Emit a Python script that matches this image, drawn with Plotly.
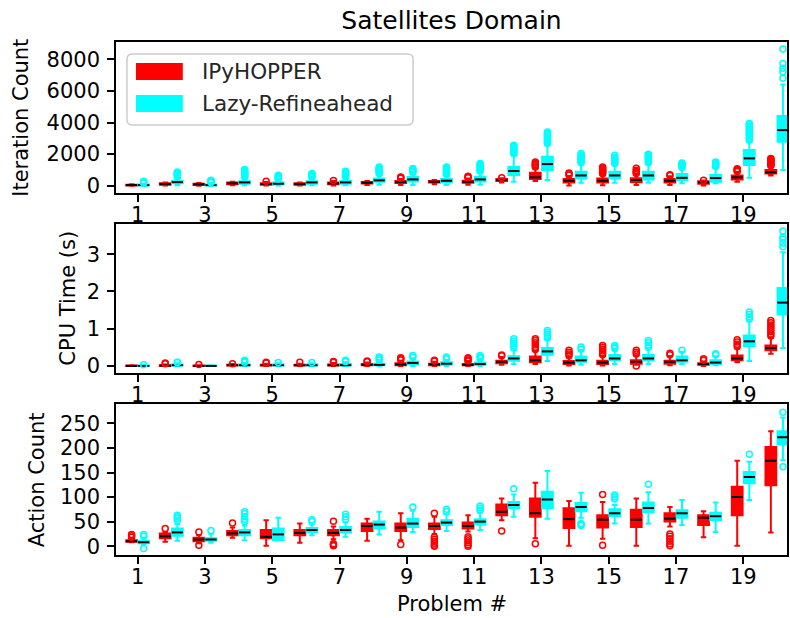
import plotly.graph_objects as go

# ---------------- data ----------------
problems = list(range(1, 21))
tick_labels = ["1", "3", "5", "7", "9", "11", "13", "15", "17", "19"]
planners = ["IPyHOPPER", "Lazy-Refineahead"]
colors = ["#ff0000", "#00ffff"]

# Iteration count
iter_red_q1 = [20, 60, 40, 100, 60, 60, 100, 140, 170, 200, 190, 300, 420, 200, 200, 220, 200, 130, 400, 780]
iter_red_med = [40, 105, 85, 150, 105, 105, 150, 190, 230, 250, 250, 360, 530, 316, 316, 360, 316, 210, 530, 845]
iter_red_q3 = [60, 150, 120, 200, 160, 160, 200, 240, 300, 300, 320, 420, 820, 420, 450, 480, 420, 290, 650, 990]
iter_red_lo = [0, 10, 0, 30, 10, 10, 20, 50, 50, 100, 60, 200, 300, 20, 30, 50, 50, 20, 250, 650]
iter_red_hi = [100, 200, 170, 250, 240, 200, 300, 300, 420, 360, 450, 480, 1100, 620, 700, 720, 600, 330, 850, 1200]
iter_red_out = [[], [], [], [], [280], [], [330], [], [470, 520, 560], [],
                [500, 550, 600], [500], [1180, 1260, 1340, 1420, 1500], [680, 740, 800],
                [760, 820, 880, 940, 1000, 1060, 1120, 1190], [780, 840, 900, 980, 1100],
                [650, 700], [350], [900, 960, 1020, 1080],
                [1260, 1320, 1380, 1440, 1500, 1560, 1620, 1680, 1720]]

iter_cyan_q1 = [20, 150, 20, 130, 70, 130, 130, 250, 260, 220, 260, 675, 990, 465, 465, 400, 360, 250, 1310, 2785]
iter_cyan_med = [40, 230, 40, 210, 127, 210, 210, 340, 400, 316, 400, 930, 1370, 650, 650, 650, 500, 485, 1730, 3520]
iter_cyan_q3 = [70, 300, 80, 280, 200, 290, 300, 450, 550, 430, 570, 1200, 1840, 885, 885, 885, 740, 680, 2260, 4410]
iter_cyan_lo = [0, 30, 0, 30, 10, 30, 30, 60, 50, 40, 60, 250, 360, 190, 190, 190, 150, 150, 500, 990]
iter_cyan_hi = [130, 500, 160, 480, 360, 480, 500, 700, 780, 660, 850, 1950, 2600, 1400, 1350, 1400, 1100, 1150, 2800, 6400]
iter_cyan_out = [[180, 230, 285], [560, 620, 680, 740, 800, 876], [200, 250, 300, 348],
                 [540, 600, 660, 720, 780, 840, 900, 960, 1023], [420, 480, 540, 600, 665],
                 [540, 600, 660, 720, 770], [560, 620, 680, 740, 800, 860, 918],
                 [760, 820, 880, 940, 1000, 1060, 1120, 1192], [840, 900, 960, 1020, 1087],
                 [720, 780, 840, 900, 960, 1020, 1080, 1140, 1192],
                 [920, 980, 1040, 1100, 1160, 1220, 1280, 1340, 1413],
                 [2020, 2100, 2180, 2260, 2340, 2420, 2500, 2563],
                 [2680, 2760, 2840, 2920, 3000, 3080, 3160, 3240, 3320, 3407],
                 [1460, 1540, 1620, 1700, 1780, 1860, 1940, 2036],
                 [1410, 1490, 1570, 1650, 1730, 1810, 1931],
                 [1460, 1540, 1620, 1700, 1780, 1860, 1940, 1994],
                 [1160, 1220, 1280, 1340, 1400, 1445], [1210, 1270, 1330, 1390, 1450, 1509],
                 [2880, 2980, 3080, 3180, 3280, 3380, 3480, 3580, 3680, 3780, 3880, 3935],
                 [6800, 7220, 7430, 7740, 8650]]

# CPU time (s)
cpu_red_q1 = [0.0, 0.0, 0.0, 0.01, 0.01, 0.01, 0.01, 0.02, 0.02, 0.02, 0.02, 0.07, 0.1, 0.05, 0.05, 0.06, 0.06, 0.03, 0.15, 0.42]
cpu_red_med = [0.0, 0.01, 0.0, 0.02, 0.02, 0.02, 0.02, 0.03, 0.04, 0.04, 0.03, 0.11, 0.15, 0.09, 0.09, 0.11, 0.11, 0.05, 0.2, 0.48]
cpu_red_q3 = [0.01, 0.02, 0.01, 0.03, 0.03, 0.03, 0.04, 0.05, 0.07, 0.06, 0.05, 0.14, 0.25, 0.13, 0.14, 0.15, 0.14, 0.07, 0.28, 0.55]
cpu_red_lo = [0, 0, 0, 0, 0, 0, 0, 0, 0, 0, 0, 0.03, 0.05, 0.01, 0.01, 0.03, 0.02, 0.0, 0.1, 0.33]
cpu_red_hi = [0.02, 0.04, 0.02, 0.05, 0.06, 0.06, 0.08, 0.09, 0.14, 0.11, 0.1, 0.24, 0.4, 0.23, 0.26, 0.28, 0.26, 0.12, 0.47, 0.75]
cpu_red_out = [[], [0.06, 0.08], [0.04], [0.06], [0.08, 0.1], [0.1], [0.1, 0.12], [0.11, 0.13],
               [0.16, 0.19, 0.22], [0.13, 0.15], [0.13, 0.16, 0.19, 0.22], [0.27, 0.29],
               [0.44, 0.5, 0.56, 0.62, 0.68, 0.73], [0.27, 0.32, 0.37, 0.42],
               [0.3, 0.35, 0.4, 0.45, 0.5, 0.55], [0.32, 0.37, 0.42, 0.0], [0.3, 0.34],
               [0.15, 0.19], [0.52, 0.58, 0.64, 0.7],
               [0.8, 0.86, 0.92, 0.98, 1.04, 1.1, 1.16, 1.22]]

cpu_cyan_q1 = [0.0, 0.01, 0.0, 0.01, 0.01, 0.01, 0.01, 0.02, 0.04, 0.03, 0.03, 0.14, 0.3, 0.11, 0.15, 0.15, 0.11, 0.05, 0.53, 1.38]
cpu_cyan_med = [0.0, 0.02, 0.0, 0.02, 0.02, 0.02, 0.02, 0.03, 0.08, 0.06, 0.05, 0.2, 0.39, 0.15, 0.2, 0.2, 0.15, 0.09, 0.66, 1.70]
cpu_cyan_q3 = [0.01, 0.04, 0.01, 0.04, 0.04, 0.04, 0.05, 0.06, 0.12, 0.1, 0.09, 0.26, 0.48, 0.25, 0.29, 0.29, 0.25, 0.15, 0.82, 2.09]
cpu_cyan_lo = [0, 0, 0, 0, 0, 0, 0, 0, 0, 0, 0, 0.05, 0.13, 0.03, 0.05, 0.05, 0.05, 0.02, 0.13, 0.48]
cpu_cyan_hi = [0.02, 0.07, 0.02, 0.08, 0.07, 0.07, 0.1, 0.12, 0.2, 0.16, 0.16, 0.42, 0.7, 0.4, 0.42, 0.45, 0.38, 0.25, 1.2, 3.05]
cpu_cyan_out = [[0.03], [0.09, 0.1], [], [0.1, 0.13, 0.15], [0.09], [0.09], [0.12, 0.15],
                [0.15, 0.19, 0.24], [0.23, 0.28], [0.19, 0.24], [0.2, 0.24, 0.28],
                [0.48, 0.54, 0.6, 0.66, 0.73], [0.75, 0.8, 0.85, 0.9, 0.95], [0.45, 0.51],
                [0.47, 0.51, 0.55], [0.5, 0.56, 0.62, 0.68], [0.42], [0.3, 0.33],
                [1.26, 1.32, 1.38, 1.45], [3.2, 3.3, 3.4, 3.46, 3.62]]

# Action count
act_red_q1 = [9, 16, 10, 22, 16, 22, 22, 31, 31, 35, 36, 63, 60, 37, 38, 39, 50, 43, 63, 124]
act_red_med = [10, 20, 13.6, 26, 19, 27, 27, 41, 38, 41, 41, 70, 67, 55, 54, 54, 56, 58, 100, 174]
act_red_q3 = [12, 26, 17, 31, 33, 33, 33, 46, 46, 46, 48, 85, 97, 77, 63, 74, 67, 63, 121, 202]
act_red_lo = [8, 9, 6, 17, 1, 7, 14, 11, 12, 25, 30, 53, 16, 1, 15, 1, 40, 18, 1, 28]
act_red_hi = [15, 29, 22, 38, 53, 46, 40, 56, 67, 60, 63, 97, 129, 92, 90, 97, 80, 71, 174, 234]
act_red_out = [[18, 21, 24], [36], [29, 2], [47], [], [], [51, 5, 3, 1], [], [3.4],
               [67, 18, 14, 10, 6, 2, 0], [19, 15, 11, 7, 3, 0], [31], [5], [], [105, 2], [],
               [25, 20, 15, 10, 5, 1], [], [], []]

act_cyan_q1 = [6, 21, 11, 22, 12, 29, 28, 36, 39, 43, 44, 77, 77, 71, 61, 69, 58, 53, 128, 207]
act_cyan_med = [8, 28, 13.6, 28, 24, 33, 33, 44, 46, 48, 50, 84, 95, 80, 67, 78, 67, 61, 141, 222]
act_cyan_q3 = [11, 36, 16, 33, 36, 37, 39, 50, 56, 53, 55, 90, 111, 88, 75, 89, 73, 68, 151, 234]
act_cyan_lo = [3, 11, 7, 12, 12, 22, 19, 24, 29, 31, 33, 60, 56, 58, 46, 46, 43, 29, 94, 175]
act_cyan_hi = [16, 45, 25, 42, 58, 44, 48, 70, 72, 65, 68, 105, 153, 109, 84, 110, 94, 89, 172, 262]
act_cyan_out = [[20, 24, -5], [53, 57, 60, 63], [32], [50, 55, 60, 66, 70], [], [50, 54],
                [55, 60, 65], [], [80], [70, 75], [73, 78, 82], [117], [], [46, 44, 42],
                [96, 100, 104], [126], [], [], [187], [162, 273]]

# ---------------- figure ----------------
# the page body margin is removed (see post_script), so the figure fills the window
W, H = 790, 618
ML, MR, MT, MB = 116, 1, 42, 618 - 555
PW, PH = W - ML - MR, H - MT - MB


def py(pix):  # screen pixel row -> paper y
    return 1 - (pix - MT) / PH


def px(pix):  # screen pixel column -> paper x
    return (pix - ML) / PW


offsets = [-0.18, 0.18]
panels = [
    ("x", "y", [(iter_red_q1, iter_red_med, iter_red_q3, iter_red_lo, iter_red_hi, iter_red_out),
                (iter_cyan_q1, iter_cyan_med, iter_cyan_q3, iter_cyan_lo, iter_cyan_hi, iter_cyan_out)]),
    ("x2", "y2", [(cpu_red_q1, cpu_red_med, cpu_red_q3, cpu_red_lo, cpu_red_hi, cpu_red_out),
                  (cpu_cyan_q1, cpu_cyan_med, cpu_cyan_q3, cpu_cyan_lo, cpu_cyan_hi, cpu_cyan_out)]),
    ("x3", "y3", [(act_red_q1, act_red_med, act_red_q3, act_red_lo, act_red_hi, act_red_out),
                  (act_cyan_q1, act_cyan_med, act_cyan_q3, act_cyan_lo, act_cyan_hi, act_cyan_out)]),
]

fig = go.Figure()
for xa, ya, series in panels:
    for k, (q1, med, q3, lo, hi, out) in enumerate(series):
        xs = [p + offsets[k] for p in problems]
        fig.add_trace(go.Box(
            x=xs, q1=q1, median=med, q3=q3, lowerfence=lo, upperfence=hi,
            width=0.32, whiskerwidth=0.5, boxpoints=False,
            fillcolor=colors[k], line=dict(color=colors[k], width=2),
            name=planners[k], showlegend=False, hoverinfo="skip",
            xaxis=xa, yaxis=ya))
for xa, ya, series in panels:
    for k, (q1, med, q3, lo, hi, out) in enumerate(series):
        xs = [p + offsets[k] for p in problems]
        fig.add_trace(go.Scatter(
            x=xs, y=med, mode="markers",
            marker=dict(symbol="line-ew", size=8, line=dict(color="black", width=2)),
            showlegend=False, hoverinfo="skip", xaxis=xa, yaxis=ya))
        fx, fy = [], []
        for p, vals in zip(problems, out):
            for v in vals:
                fx.append(p + offsets[k])
                fy.append(v)
        fig.add_trace(go.Scatter(
            x=fx, y=fy, mode="markers",
            marker=dict(symbol="circle-open", size=6, color=colors[k],
                        line=dict(width=1.5, color=colors[k])),
            showlegend=False, hoverinfo="skip", xaxis=xa, yaxis=ya))

FS = 21
tickvals = [int(t) for t in tick_labels]
axis_common = dict(showline=True, mirror=True, linecolor="black", linewidth=1.5,
                   ticks="outside", ticklen=7, tickwidth=1.5, tickcolor="black",
                   showgrid=False, zeroline=False,
                   tickfont=dict(size=FS, color="black", family="DejaVu Sans"))
xcommon = dict(axis_common, range=[0.357, 20.30], tickmode="array",
               tickvals=tickvals, ticktext=tick_labels, domain=[0, 1],
               ticklabelstandoff=-5)

doms = [[py(193), 1.0], [py(373), py(224)], [0.0, py(404.3)]]
fig.update_layout(
    width=W, height=H, margin=dict(l=ML, r=MR, t=MT, b=MB),
    plot_bgcolor="white", paper_bgcolor="white", boxmode="overlay",
    font=dict(family="DejaVu Sans", color="black", size=FS),
    title=dict(text="Satellites Domain", x=0.5, xref="paper", xanchor="center",
               y=1 - 20 / H, yanchor="middle", font=dict(size=25, color="black")),
    xaxis=dict(xcommon, anchor="y"),
    xaxis2=dict(xcommon, anchor="y2"),
    xaxis3=dict(xcommon, anchor="y3"),
    yaxis=dict(axis_common, domain=doms[0], range=[-460, 9095], tick0=0, dtick=2000, anchor="x",
               ticklabelstandoff=3),
    yaxis2=dict(axis_common, domain=doms[1], range=[-0.19, 3.81], tick0=0, dtick=1, anchor="x2",
                ticklabelstandoff=3),
    yaxis3=dict(axis_common, domain=doms[2], range=[-18, 289], tick0=0, dtick=50, anchor="x3",
                ticklabelstandoff=3),
)

ann = [
    dict(text="Iteration Count", x=px(21), y=py(117.5), textangle=-90),
    dict(text="CPU Time (s)", x=px(67), y=py(298.5), textangle=-90),
    dict(text="Action Count", x=px(36.5), y=py(479.5), textangle=-90),
    dict(text="Problem #", x=px(453), y=py(604), textangle=0),
]
for a in ann:
    fig.add_annotation(xref="paper", yref="paper", showarrow=False,
                       xanchor="center", yanchor="middle",
                       font=dict(size=FS, color="black"), **a)

# legend (matplotlib style: rounded frame with wide colour patches)
lx0, lx1, ly0, ly1, r = px(127), px(414), py(125), py(54), 0.008
ry = r * PW / PH
path = (f"M{lx0 + r},{ly0} L{lx1 - r},{ly0} Q{lx1},{ly0} {lx1},{ly0 + ry} "
        f"L{lx1},{ly1 - ry} Q{lx1},{ly1} {lx1 - r},{ly1} L{lx0 + r},{ly1} "
        f"Q{lx0},{ly1} {lx0},{ly1 - ry} L{lx0},{ly0 + ry} Q{lx0},{ly0} {lx0 + r},{ly0} Z")
fig.add_shape(type="path", path=path, xref="paper", yref="paper",
              line=dict(color="#cccccc", width=1.5), fillcolor="rgba(255,255,255,0.8)", layer="above")
patch_rows = [(63, 80, 71.5), (95, 112, 103.5)]
for k, (t0, t1, tc) in enumerate(patch_rows):
    fig.add_shape(type="rect", xref="paper", yref="paper",
                  x0=px(136), x1=px(183), y0=py(t1), y1=py(t0),
                  fillcolor=colors[k], line=dict(width=0), layer="above")
    fig.add_annotation(xref="paper", yref="paper", x=px(200), y=py(tc), text=planners[k],
                       showarrow=False, xanchor="left", yanchor="middle",
                       font=dict(size=21.5, color="#262626"))

fig.write_html("out.html", config={"displayModeBar": False},
               post_script="document.body.style.margin='0px';document.body.style.overflow='hidden';")
